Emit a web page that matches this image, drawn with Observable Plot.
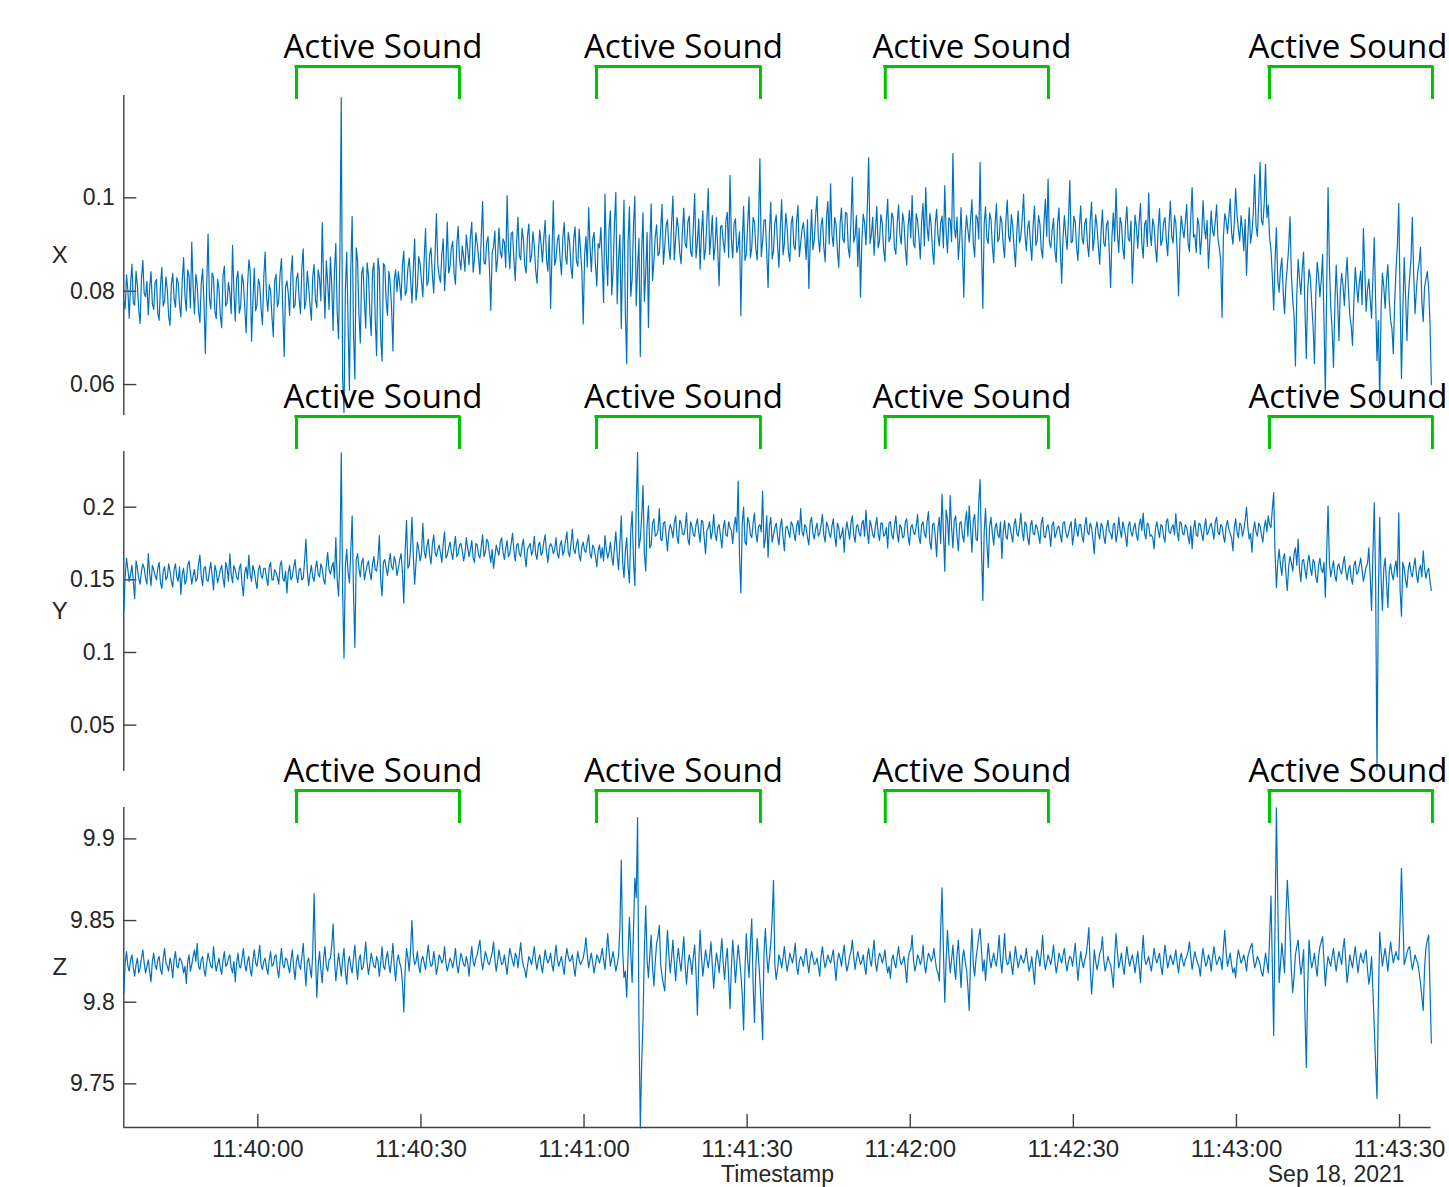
<!DOCTYPE html>
<html><head><meta charset="utf-8">
<script src="https://cdn.jsdelivr.net/npm/d3@7"></script>
<script src="https://cdn.jsdelivr.net/npm/@observablehq/plot@0.6"></script>
<style>
html,body{margin:0;padding:0;background:#fff;overflow:hidden}
#chart{position:relative;width:1449px;height:1187px;overflow:hidden;background:#fff}
#chart svg{position:absolute;left:0;top:0}
</style></head><body><div id="chart"></div>
<script>
// ---------- data ----------
// Samples every 250 ms, stored as two interleaved phases:
// *Values  = samples at sampleStart + i*500 ms
// *Between = samples at sampleStart + i*500 + 250 ms
const sampleStart = "2021-09-18T11:39:35.350Z";
const sampleStepMs = 500;
const xDomainIso = ["2021-09-18T11:39:35.350Z", "2021-09-18T11:43:35.820Z"];
const xTickLabels = ["11:40:00","11:40:30","11:41:00","11:41:30","11:42:00","11:42:30","11:43:00","11:43:30"];
const dateLabel = "Sep 18, 2021";
const xAxisTitle = "Timestamp";
const activeSoundLabel = "Active Sound";
const activeSoundStart = ["11:40:07.110","11:41:02.290","11:41:55.410","11:43:06.070"];
const activeSoundEnd   = ["11:40:37.090","11:41:32.450","11:42:25.420","11:43:36.050"];

const panelNames = ["X", "Y", "Z"];
const xTicksY = [0.06, 0.08, 0.1];
const yTicksY = [0.05, 0.1, 0.15, 0.2];
const zTicksY = [9.75, 9.8, 9.85, 9.9];
const xDomainY = [0.05337, 0.12193];
const yDomainY = [0.01810, 0.23834];
const zDomainY = [9.72327, 9.91923];

const xValues = [
0.0780,0.0835,0.0742,0.0858,0.0770,0.0812,0.0731,0.0866,0.0788,0.0749,
0.0842,0.0761,0.0825,0.0738,0.0851,0.0779,0.0803,0.0727,0.0838,0.0766,
0.0819,0.0745,0.0872,0.0758,0.0832,0.0905,0.0751,0.0814,0.0733,0.0848,
0.0667,0.0923,0.0762,0.0829,0.0741,0.0806,0.0722,0.0854,0.0775,0.0797,
0.0898,0.0736,0.0843,0.0769,0.0818,0.0711,0.0867,0.0693,0.0849,0.0772,
0.0815,0.0728,0.0884,0.0757,0.0801,0.0703,0.0836,0.0781,0.0870,0.0660,
0.0822,0.0748,0.0876,0.0770,0.0839,0.0752,0.0891,0.0779,0.0810,0.0738,
0.0857,0.0765,0.0828,0.0947,0.0742,0.0818,0.0873,0.0716,0.0902,0.0698,
0.1215,0.0540,0.0884,0.0588,0.0960,0.0612,0.0866,0.0689,0.0852,0.0721,
0.0834,0.0705,0.0861,0.0662,0.0845,0.0650,0.0855,0.0748,0.0818,0.0672,
0.0846,0.0842,0.0781,0.0886,0.0800,0.0871,0.0775,0.0912,0.0809,0.0858,
0.0788,0.0934,0.0821,0.0893,0.0796,0.0966,0.0833,0.0880,0.0801,0.0948,
0.0852,0.0907,0.0815,0.0939,0.0846,0.0874,0.0921,0.0857,0.0948,0.0869,
0.0903,0.0836,0.0992,0.0858,0.0917,0.0759,0.0895,0.0842,0.0936,0.0871,
0.0905,0.1005,0.0848,0.0927,0.0823,0.0959,0.0867,0.0911,0.0839,0.0944,
0.0876,0.0898,0.0817,0.0931,0.0862,0.0952,0.0843,0.0763,0.0994,0.0870,
0.0921,0.0835,0.0947,0.0858,0.0906,0.0828,0.0938,0.0853,0.0889,0.0730,
0.0917,0.0979,0.0842,0.0926,0.0811,0.0893,0.0858,0.1008,0.0812,0.0972,
0.0846,0.1012,0.0869,0.0720,0.0995,0.0645,0.0981,0.0827,0.1003,0.0851,
0.0660,0.0968,0.0839,0.0722,0.0987,0.0864,0.0942,0.0881,0.0986,0.0897,
0.0953,0.0868,0.1004,0.0912,0.0935,0.0859,0.0978,0.0893,0.0961,0.0874,
0.1009,0.0906,0.0847,0.0972,0.0889,0.1020,0.0916,0.0867,0.0958,0.0812,
0.0941,0.0883,0.0969,0.1048,0.0871,0.0955,0.0897,0.0748,0.0982,0.0879,
0.1002,0.0893,0.0948,0.0867,0.1084,0.0906,0.0953,0.0808,0.0991,0.0886,
0.0963,0.0851,0.0996,0.0902,0.0939,0.0864,0.0961,0.0889,0.0984,0.0902,
0.0947,0.0868,0.0806,0.0975,0.0911,0.1003,0.0884,0.0957,0.0863,0.0992,
0.1030,0.0896,0.0943,0.0851,0.0978,0.0904,0.0966,0.0872,0.1044,0.0918,
0.0853,0.0787,0.0965,0.0899,0.1086,0.0921,0.0877,0.0982,0.0908,0.0946,
0.0864,0.0997,0.0915,0.0958,0.0879,0.0985,0.0901,0.0947,0.0856,0.0973,
0.1005,0.0893,0.0951,0.0869,0.0988,0.1022,0.0908,0.0942,0.0858,0.0976,
0.0897,0.0961,0.1026,0.0882,0.0953,0.1095,0.0914,0.0868,0.0979,0.0787,
0.0962,0.0905,0.0996,0.0874,0.0957,0.1076,0.0763,0.0981,0.0902,0.0954,
0.0861,0.0987,0.0913,0.0948,0.0872,0.0995,0.0906,0.0939,0.0853,0.0972,
0.0918,0.1008,0.0887,0.0951,0.0866,0.0983,0.0909,0.0944,0.0871,0.0997,
0.1040,0.0893,0.0956,0.0862,0.0978,0.0817,0.0962,0.0889,0.1037,0.0907,
0.0948,0.0866,0.0983,0.0901,0.0956,0.0874,0.0991,0.0912,0.0939,0.0858,
0.0974,0.0896,0.0951,0.0808,0.0968,0.1020,0.0883,0.0945,0.0869,0.0981,
0.0907,0.0817,0.0963,0.0892,0.0988,0.0871,0.0952,0.1010,0.0898,0.0941,
0.0862,0.0977,0.0909,0.0958,0.0876,0.0993,0.0903,0.0946,0.0790,0.0961,
0.0914,0.0986,0.0885,0.1022,0.0921,0.0957,0.0879,0.0994,0.0912,0.0849,
0.0972,0.0918,0.0985,0.0893,0.0744,0.0966,0.0924,0.0998,0.0901,0.1020,
0.0933,0.0962,0.0887,0.0834,0.0979,0.0926,0.1050,0.0918,0.1076,0.0942,
0.1072,0.0985,0.0889,0.0760,0.0936,0.0798,0.0871,0.0752,0.0852,0.0960,
0.0781,0.0640,0.0868,0.0793,0.0884,0.0656,0.0847,0.0771,0.0645,0.0862,
0.0788,0.0879,0.0580,0.1022,0.0764,0.0637,0.0856,0.0694,0.0838,0.0769,
0.0872,0.0748,0.0684,0.0851,0.0776,0.0843,0.0934,0.0757,0.0826,0.0742,
0.0915,0.0651,0.0560,0.0839,0.0763,0.0857,0.0738,0.0666,0.0848,0.0988,
0.0613,0.0872,0.0694,0.0829,0.0958,0.0752,0.0841,0.0894,0.0735,0.0826,
0.0808,0.0600
];
const xBetween = [
0.0762,0.0801,0.0817,0.0774,0.0843,0.0759,0.0827,0.0795,0.0821,0.0806,
0.0773,0.0819,0.0752,0.0812,0.0768,0.0831,0.0746,0.0815,0.0784,0.0829,
0.0771,0.0823,0.0789,0.0846,0.0764,0.0808,0.0836,0.0757,0.0817,0.0773,
0.0812,0.0784,0.0839,0.0758,0.0826,0.0749,0.0834,0.0768,0.0819,0.0752,
0.0801,0.0827,0.0753,0.0836,0.0764,0.0809,0.0842,0.0781,0.0758,0.0826,
0.0762,0.0831,0.0787,0.0814,0.0745,0.0822,0.0766,0.0839,0.0757,0.0809,
0.0795,0.0838,0.0764,0.0825,0.0783,0.0851,0.0762,0.0843,0.0769,0.0832,
0.0781,0.0846,0.0779,0.0824,0.0865,0.0761,0.0812,0.0846,0.0755,0.0879,
0.0612,0.0803,0.0731,0.0849,0.0707,0.0893,0.0752,0.0838,0.0779,0.0861,
0.0756,0.0842,0.0738,0.0871,0.0702,0.0859,0.0781,0.0843,0.0765,0.0826,
0.0799,0.0814,0.0857,0.0792,0.0849,0.0826,0.0848,0.0781,0.0874,0.0823,
0.0869,0.0812,0.0878,0.0836,0.0877,0.0858,0.0819,0.0912,0.0857,0.0839,
0.0894,0.0838,0.0902,0.0868,0.0897,0.0843,0.0889,0.0916,0.0841,0.0925,
0.0872,0.0918,0.0861,0.0905,0.0849,0.0882,0.0929,0.0868,0.0884,0.0912,
0.0851,0.0893,0.0924,0.0869,0.0905,0.0877,0.0934,0.0854,0.0918,0.0862,
0.0927,0.0845,0.0882,0.0901,0.0913,0.0868,0.0921,0.0879,0.0856,0.0908,
0.0869,0.0915,0.0874,0.0926,0.0851,0.0912,0.0865,0.0933,0.0842,0.0876,
0.0852,0.0897,0.0911,0.0858,0.0902,0.0937,0.0776,0.0881,0.0934,0.0792,
0.0948,0.0773,0.0921,0.0876,0.0752,0.0903,0.0789,0.0942,0.0769,0.0913,
0.0887,0.0778,0.0926,0.0901,0.0823,0.0917,0.0876,0.0932,0.0858,0.0941,
0.0893,0.0946,0.0867,0.0958,0.0883,0.0929,0.0901,0.0948,0.0885,0.0937,
0.0871,0.0955,0.0924,0.0868,0.0951,0.0879,0.0962,0.0897,0.0886,0.0938,
0.0905,0.0951,0.0872,0.0913,0.0946,0.0883,0.0927,0.0904,0.0866,0.0944,
0.0872,0.0958,0.0891,0.0949,0.0874,0.0952,0.0883,0.0928,0.0869,0.0947,
0.0898,0.0936,0.0878,0.0967,0.0883,0.0945,0.0896,0.0951,0.0874,0.0933,
0.0915,0.0953,0.0904,0.0889,0.0962,0.0913,0.0941,0.0895,0.0958,0.0901,
0.0921,0.0958,0.0887,0.0946,0.0912,0.0969,0.0893,0.0951,0.0905,0.0962,
0.0935,0.0908,0.0947,0.0978,0.0902,0.0959,0.0931,0.0893,0.0964,0.0889,
0.0951,0.0906,0.0968,0.0893,0.0945,0.0921,0.0967,0.0891,0.0939,0.0914,
0.0902,0.0966,0.0914,0.0951,0.0897,0.0938,0.0967,0.0885,0.0943,0.0919,
0.0947,0.0893,0.0928,0.0957,0.0906,0.0937,0.0959,0.0912,0.0886,0.0918,
0.0931,0.0954,0.0901,0.0963,0.0912,0.0894,0.0944,0.0913,0.0968,0.0897,
0.0942,0.0906,0.0961,0.0899,0.0953,0.0917,0.0964,0.0893,0.0927,0.0904,
0.0957,0.0921,0.0936,0.0903,0.0941,0.0898,0.0962,0.0889,0.0949,0.0917,
0.0905,0.0931,0.0888,0.0944,0.0896,0.0915,0.0921,0.0953,0.0904,0.0961,
0.0892,0.0937,0.0915,0.0946,0.0899,0.0951,0.0887,0.0964,0.0896,0.0928,
0.0903,0.0942,0.0885,0.0916,0.0907,0.0924,0.0958,0.0893,0.0947,0.0912,
0.0951,0.0889,0.0937,0.0948,0.0902,0.0943,0.0896,0.0927,0.0955,0.0892,
0.0936,0.0898,0.0947,0.0911,0.0942,0.0917,0.0962,0.0884,0.0911,0.0934,
0.0948,0.0903,0.0959,0.0916,0.0883,0.0942,0.0915,0.0937,0.0952,0.0906,
0.0931,0.0949,0.0912,0.0867,0.0915,0.0951,0.0958,0.0926,0.0947,0.0965,
0.0908,0.0932,0.0954,0.0917,0.0903,0.0967,0.0939,0.0994,0.0951,0.0987,
0.0958,0.0914,0.0832,0.0863,0.0822,0.0847,0.0798,0.0817,0.0893,0.0836,
0.0747,0.0792,0.0826,0.0849,0.0761,0.0802,0.0828,0.0724,0.0796,0.0835,
0.0824,0.0738,0.0812,0.0857,0.0718,0.0772,0.0781,0.0799,0.0813,0.0828,
0.0803,0.0726,0.0779,0.0814,0.0819,0.0771,0.0847,0.0804,0.0783,0.0831,
0.0778,0.0737,0.0762,0.0809,0.0824,0.0782,0.0719,0.0775,0.0897,0.0784,
0.0754,0.0791,0.0785,0.0868,0.0836,0.0803,0.0861,0.0776,0.0809,0.0842,
0.0731
];

const yValues = [
0.128,0.165,0.149,0.160,0.137,0.158,0.147,0.161,0.151,0.168,
0.146,0.157,0.150,0.162,0.144,0.159,0.152,0.156,0.145,0.161,
0.149,0.140,0.158,0.150,0.163,0.147,0.157,0.151,0.167,0.146,
0.159,0.149,0.162,0.143,0.156,0.152,0.160,0.145,0.158,0.168,
0.148,0.157,0.150,0.161,0.139,0.159,0.167,0.149,0.156,0.144,
0.160,0.151,0.158,0.146,0.162,0.150,0.155,0.147,0.163,0.149,
0.141,0.160,0.152,0.164,0.148,0.158,0.151,0.178,0.146,0.160,
0.149,0.163,0.152,0.158,0.147,0.169,0.154,0.162,0.179,0.139,
0.2375,0.096,0.171,0.148,0.194,0.1035,0.168,0.152,0.165,0.155,
0.163,0.150,0.166,0.156,0.1805,0.139,0.164,0.153,0.168,0.157,
0.162,0.158,0.168,0.134,0.191,0.160,0.193,0.147,0.176,0.163,
0.189,0.165,0.178,0.161,0.181,0.166,0.174,0.162,0.183,0.167,
0.176,0.164,0.180,0.168,0.175,0.163,0.179,0.166,0.177,0.162,
0.174,0.165,0.181,0.169,0.176,0.162,0.158,0.174,0.167,0.179,
0.164,0.177,0.168,0.182,0.163,0.175,0.166,0.178,0.159,0.173,
0.167,0.180,0.164,0.176,0.169,0.181,0.162,0.175,0.168,0.179,
0.165,0.177,0.170,0.183,0.166,0.185,0.168,0.178,0.163,0.176,
0.169,0.181,0.165,0.172,0.159,0.174,0.172,0.1805,0.165,0.176,
0.160,0.183,0.157,0.194,0.1516,0.179,0.148,0.197,0.146,0.2377,
0.178,0.215,0.156,0.201,0.174,0.192,0.181,0.199,0.177,0.190,
0.170,0.188,0.179,0.194,0.175,0.189,0.181,0.196,0.174,0.187,
0.180,0.192,0.176,0.190,0.168,0.186,0.178,0.195,0.177,0.188,
0.172,0.191,0.180,0.186,0.175,0.193,0.218,0.141,0.200,0.174,
0.190,0.179,0.196,0.176,0.188,0.211,0.178,0.1655,0.193,0.181,
0.189,0.174,0.192,0.170,0.187,0.179,0.188,0.177,0.191,0.199,
0.180,0.186,0.174,0.193,0.178,0.189,0.182,0.195,0.176,0.187,
0.179,0.192,0.173,0.186,0.181,0.169,0.190,0.178,0.194,0.176,
0.188,0.180,0.191,0.198,0.175,0.187,0.179,0.193,0.177,0.189,
0.181,0.172,0.190,0.178,0.194,0.176,0.186,0.180,0.192,0.174,
0.188,0.181,0.195,0.175,0.190,0.179,0.197,0.171,0.189,0.166,
0.193,0.209,0.156,0.192,0.208,0.172,0.194,0.170,0.190,0.176,
0.197,0.201,0.169,0.195,0.177,0.219,0.1358,0.199,0.1585,0.193,
0.174,0.189,0.179,0.1647,0.191,0.178,0.187,0.176,0.192,0.180,
0.196,0.177,0.188,0.174,0.191,0.181,0.186,0.175,0.193,0.179,
0.188,0.173,0.190,0.182,0.187,0.176,0.190,0.179,0.187,0.174,
0.192,0.180,0.188,0.176,0.193,0.181,0.186,0.168,0.190,0.178,
0.187,0.175,0.191,0.182,0.188,0.176,0.193,0.179,0.186,0.173,
0.190,0.180,0.189,0.177,0.192,0.196,0.178,0.188,0.181,0.1715,
0.190,0.179,0.187,0.176,0.192,0.182,0.188,0.1957,0.177,0.189,
0.181,0.186,0.175,0.1715,0.191,0.180,0.188,0.177,0.192,0.183,
0.189,0.178,0.193,0.181,0.187,0.176,0.191,0.182,0.170,0.192,
0.179,0.188,0.184,0.200,0.178,0.169,0.190,0.180,0.187,0.176,
0.191,0.194,0.186,0.210,0.1447,0.171,0.153,0.168,0.1427,0.166,
0.156,0.172,0.178,0.1487,0.164,0.151,0.167,0.153,0.162,0.148,
0.165,0.155,0.138,0.201,0.152,0.163,0.149,0.161,0.154,0.166,
0.150,0.160,0.147,0.163,0.155,0.165,0.149,0.159,0.172,0.129,
0.2032,0.019,0.193,0.129,0.165,0.131,0.161,0.150,0.163,0.196,
0.125,0.158,0.1447,0.162,0.152,0.165,0.148,0.160,0.170,0.151,
0.158,0.1427
];
const yBetween = [
0.152,0.157,0.154,0.149,0.163,0.151,0.156,0.158,0.147,0.155,
0.160,0.153,0.158,0.148,0.156,0.150,0.161,0.149,0.157,0.152,
0.159,0.154,0.147,0.160,0.155,0.153,0.149,0.161,0.152,0.158,
0.150,0.156,0.153,0.160,0.148,0.157,0.151,0.162,0.149,0.154,
0.160,0.152,0.158,0.147,0.155,0.151,0.154,0.160,0.149,0.157,
0.153,0.158,0.151,0.159,0.150,0.157,0.152,0.160,0.151,0.156,
0.155,0.150,0.159,0.153,0.157,0.150,0.163,0.156,0.154,0.152,
0.158,0.154,0.161,0.150,0.160,0.157,0.159,0.151,0.150,0.164,
0.142,0.160,0.155,0.170,0.141,0.164,0.158,0.162,0.150,0.160,
0.155,0.161,0.157,0.164,0.150,0.162,0.158,0.161,0.159,0.166,
0.153,0.164,0.155,0.170,0.158,0.172,0.167,0.162,0.171,0.168,
0.170,0.173,0.167,0.174,0.169,0.171,0.168,0.175,0.165,0.172,
0.169,0.173,0.166,0.174,0.170,0.168,0.172,0.171,0.165,0.175,
0.167,0.173,0.166,0.178,0.168,0.171,0.166,0.170,0.176,0.169,
0.172,0.166,0.175,0.170,0.174,0.168,0.173,0.167,0.171,0.175,
0.170,0.168,0.174,0.167,0.176,0.169,0.172,0.173,0.171,0.168,
0.174,0.167,0.177,0.169,0.175,0.171,0.174,0.167,0.173,0.170,
0.176,0.168,0.174,0.166,0.170,0.165,0.163,0.171,0.169,0.166,
0.173,0.167,0.175,0.162,0.170,0.159,0.184,0.163,0.201,0.172,
0.193,0.168,0.187,0.172,0.189,0.180,0.184,0.178,0.189,0.180,
0.183,0.185,0.189,0.180,0.191,0.182,0.186,0.178,0.190,0.181,
0.188,0.183,0.191,0.179,0.184,0.190,0.183,0.182,0.186,0.180,
0.185,0.181,0.190,0.184,0.187,0.183,0.166,0.189,0.176,0.193,
0.181,0.189,0.182,0.187,0.183,0.172,0.194,0.187,0.176,0.186,
0.180,0.187,0.179,0.186,0.183,0.190,0.182,0.187,0.181,0.183,
0.188,0.179,0.190,0.182,0.185,0.180,0.188,0.181,0.190,0.182,
0.187,0.180,0.189,0.178,0.186,0.183,0.184,0.189,0.181,0.187,
0.182,0.189,0.180,0.183,0.191,0.181,0.187,0.182,0.189,0.180,
0.186,0.189,0.181,0.187,0.182,0.188,0.179,0.190,0.180,0.186,
0.183,0.187,0.180,0.188,0.182,0.190,0.176,0.188,0.180,0.186,
0.175,0.183,0.198,0.174,0.186,0.191,0.180,0.189,0.181,0.190,
0.180,0.185,0.191,0.178,0.203,0.172,0.183,0.175,0.187,0.182,
0.186,0.181,0.190,0.183,0.180,0.189,0.181,0.188,0.182,0.187,
0.183,0.190,0.179,0.187,0.182,0.188,0.181,0.189,0.180,0.186,
0.182,0.188,0.179,0.186,0.181,0.189,0.183,0.182,0.190,0.181,
0.184,0.188,0.180,0.187,0.183,0.189,0.178,0.185,0.182,0.189,
0.180,0.186,0.183,0.178,0.189,0.182,0.184,0.190,0.180,0.187,
0.183,0.186,0.181,0.188,0.184,0.182,0.189,0.180,0.179,0.185,
0.184,0.188,0.180,0.190,0.183,0.186,0.181,0.183,0.190,0.182,
0.188,0.180,0.187,0.185,0.181,0.189,0.182,0.186,0.181,0.187,
0.184,0.190,0.183,0.188,0.180,0.187,0.185,0.179,0.186,0.183,
0.189,0.180,0.191,0.186,0.182,0.184,0.183,0.189,0.181,0.186,
0.183,0.188,0.199,0.168,0.162,0.160,0.165,0.154,0.159,0.162,
0.168,0.160,0.157,0.163,0.157,0.162,0.158,0.164,0.152,0.160,
0.157,0.162,0.170,0.161,0.158,0.153,0.159,0.156,0.161,0.156,
0.157,0.151,0.160,0.154,0.160,0.157,0.154,0.161,0.152,0.168,
0.148,0.140,0.151,0.158,0.148,0.156,0.154,0.158,0.152,0.143,
0.162,0.150,0.157,0.155,0.159,0.154,0.157,0.152,0.158,0.156,
0.149
];

const zValues = [
9.805,9.831,9.819,9.829,9.816,9.827,9.821,9.832,9.818,9.826,
9.8125,9.830,9.820,9.828,9.817,9.833,9.822,9.827,9.815,9.831,
9.821,9.826,9.818,9.8115,9.829,9.823,9.832,9.836,9.820,9.828,
9.816,9.830,9.822,9.834,9.819,9.827,9.817,9.831,9.823,9.829,
9.818,9.8125,9.830,9.821,9.833,9.819,9.828,9.816,9.832,9.822,
9.835,9.820,9.827,9.817,9.831,9.823,9.829,9.815,9.833,9.821,
9.826,9.818,9.832,9.814,9.829,9.820,9.836,9.810,9.827,9.815,
9.8665,9.803,9.831,9.812,9.834,9.819,9.827,9.848,9.813,9.830,
9.816,9.833,9.811,9.828,9.818,9.835,9.814,9.829,9.821,9.837,
9.817,9.830,9.822,9.828,9.816,9.834,9.820,9.831,9.818,9.836,
9.813,9.829,9.821,9.794,9.833,9.819,9.850,9.823,9.831,9.818,
9.828,9.820,9.835,9.822,9.831,9.817,9.829,9.824,9.834,9.819,
9.827,9.821,9.833,9.818,9.830,9.823,9.828,9.816,9.834,9.822,
9.829,9.838,9.820,9.831,9.824,9.827,9.837,9.819,9.832,9.823,
9.829,9.817,9.833,9.825,9.830,9.821,9.8365,9.822,9.815,9.828,
9.823,9.834,9.820,9.829,9.818,9.832,9.824,9.830,9.819,9.835,
9.822,9.828,9.817,9.833,9.825,9.829,9.816,9.831,9.823,9.827,
9.8396,9.821,9.830,9.818,9.829,9.824,9.833,9.820,9.842,9.822,
9.831,9.819,9.828,9.887,9.815,9.803,9.852,9.812,9.876,9.913,
9.723,9.789,9.859,9.815,9.841,9.810,9.836,9.847,9.816,9.807,
9.844,9.818,9.838,9.813,9.833,9.819,9.840,9.811,9.829,9.817,
9.835,9.792,9.844,9.816,9.832,9.821,9.837,9.8085,9.830,9.818,
9.839,9.814,9.833,9.796,9.838,9.812,9.835,9.817,9.783,9.842,
9.815,9.851,9.7876,9.839,9.813,9.777,9.845,9.818,9.836,9.8746,
9.814,9.829,9.821,9.834,9.819,9.830,9.824,9.836,9.817,9.828,
9.822,9.833,9.818,9.831,9.823,9.827,9.816,9.834,9.821,9.829,
9.824,9.832,9.8133,9.830,9.822,9.835,9.819,9.828,9.838,9.820,
9.831,9.823,9.829,9.817,9.833,9.822,9.838,9.819,9.830,9.824,
9.832,9.818,9.8145,9.829,9.821,9.834,9.823,9.828,9.812,9.831,
9.841,9.819,9.829,9.823,9.835,9.818,9.830,9.825,9.833,9.820,
9.813,9.870,9.800,9.844,9.818,9.835,9.814,9.838,9.809,9.832,
9.820,9.795,9.845,9.816,9.833,9.845,9.819,9.8133,9.836,9.821,
9.830,9.822,9.841,9.818,9.842,9.823,9.831,9.817,9.834,9.821,
9.829,9.824,9.833,9.819,9.828,9.811,9.832,9.822,9.841,9.820,
9.829,9.823,9.835,9.818,9.830,9.824,9.833,9.819,9.828,9.822,
9.836,9.8133,9.831,9.821,9.829,9.8457,9.805,9.832,9.820,9.830,
9.840,9.819,9.828,9.823,9.809,9.842,9.821,9.830,9.817,9.834,
9.822,9.829,9.818,9.831,9.812,9.841,9.823,9.828,9.819,9.833,
9.824,9.830,9.817,9.835,9.821,9.829,9.823,9.832,9.818,9.830,
9.822,9.828,9.837,9.820,9.831,9.824,9.816,9.833,9.822,9.829,
9.819,9.834,9.823,9.828,9.820,9.844,9.822,9.830,9.818,9.815,
9.832,9.824,9.829,9.819,9.831,9.836,9.821,9.828,9.823,9.816,
9.830,9.818,9.865,9.7796,9.919,9.812,9.836,9.818,9.8746,9.842,
9.806,9.829,9.838,9.817,9.832,9.760,9.838,9.821,9.830,9.816,
9.834,9.840,9.810,9.828,9.822,9.833,9.819,9.831,9.823,9.839,
9.812,9.829,9.821,9.834,9.818,9.830,9.824,9.832,9.811,9.828,
9.7845,9.741,9.843,9.822,9.833,9.819,9.837,9.824,9.831,9.826,
9.882,9.823,9.830,9.834,9.820,9.829,9.824,9.812,9.795,9.833,
9.841,9.775
];
const zBetween = [
9.824,9.822,9.826,9.821,9.823,9.818,9.827,9.824,9.822,9.819,
9.825,9.823,9.826,9.820,9.827,9.824,9.819,9.823,9.826,9.822,
9.827,9.823,9.822,9.825,9.819,9.828,9.825,9.822,9.826,9.820,
9.824,9.826,9.821,9.825,9.823,9.821,9.826,9.822,9.827,9.821,
9.825,9.824,9.822,9.827,9.823,9.825,9.820,9.826,9.824,9.828,
9.823,9.825,9.821,9.826,9.822,9.828,9.820,9.825,9.823,9.827,
9.822,9.826,9.821,9.825,9.823,9.828,9.822,9.825,9.821,9.830,
9.829,9.822,9.820,9.827,9.822,9.826,9.835,9.826,9.822,9.823,
9.826,9.819,9.824,9.822,9.827,9.823,9.826,9.820,9.828,9.824,
9.823,9.826,9.821,9.825,9.824,9.822,9.827,9.823,9.826,9.822,
9.825,9.824,9.812,9.820,9.827,9.833,9.829,9.825,9.822,9.826,
9.824,9.828,9.826,9.823,9.825,9.822,9.827,9.826,9.824,9.823,
9.825,9.826,9.823,9.824,9.827,9.822,9.824,9.826,9.825,9.827,
9.834,9.826,9.825,9.828,9.823,9.830,9.826,9.825,9.827,9.824,
9.823,9.826,9.829,9.822,9.828,9.829,9.827,9.820,9.822,9.826,
9.828,9.825,9.826,9.823,9.825,9.827,9.826,9.823,9.827,9.826,
9.825,9.822,9.827,9.828,9.826,9.822,9.824,9.826,9.825,9.832,
9.829,9.826,9.824,9.823,9.827,9.828,9.826,9.830,9.831,9.827,
9.825,9.823,9.846,9.832,9.819,9.829,9.830,9.845,9.864,9.790,
9.762,9.832,9.826,9.829,9.821,9.825,9.840,9.823,9.811,9.828,
9.829,9.827,9.824,9.826,9.825,9.830,9.822,9.823,9.825,9.828,
9.818,9.823,9.828,9.824,9.826,9.828,9.822,9.821,9.825,9.829,
9.824,9.826,9.815,9.821,9.826,9.824,9.827,9.805,9.820,9.826,
9.836,9.811,9.822,9.827,9.798,9.830,9.829,9.827,9.851,9.823,
9.820,9.826,9.827,9.825,9.824,9.827,9.829,9.822,9.825,9.826,
9.828,9.824,9.826,9.827,9.824,9.822,9.828,9.826,9.825,9.826,
9.828,9.822,9.825,9.827,9.829,9.825,9.823,9.831,9.828,9.826,
9.827,9.825,9.822,9.828,9.826,9.830,9.824,9.826,9.828,9.827,
9.823,9.822,9.826,9.824,9.828,9.826,9.825,9.821,9.826,9.832,
9.826,9.823,9.827,9.826,9.823,9.825,9.828,9.827,9.826,9.818,
9.845,9.832,9.826,9.829,9.826,9.822,9.829,9.823,9.827,9.825,
9.809,9.828,9.823,9.827,9.840,9.832,9.826,9.825,9.827,9.826,
9.825,9.830,9.826,9.829,9.827,9.824,9.823,9.826,9.827,9.825,
9.826,9.827,9.825,9.822,9.820,9.826,9.828,9.830,9.826,9.824,
9.826,9.828,9.825,9.823,9.827,9.829,9.824,9.825,9.827,9.829,
9.824,9.823,9.825,9.826,9.836,9.822,9.817,9.825,9.824,9.832,
9.826,9.823,9.825,9.817,9.828,9.831,9.825,9.822,9.826,9.827,
9.826,9.824,9.825,9.822,9.828,9.827,9.825,9.823,9.826,9.827,
9.827,9.822,9.826,9.828,9.825,9.826,9.827,9.824,9.826,9.825,
9.826,9.831,9.828,9.826,9.827,9.822,9.826,9.827,9.824,9.826,
9.827,9.828,9.825,9.826,9.833,9.831,9.826,9.823,9.821,9.826,
9.828,9.826,9.825,9.828,9.834,9.827,9.824,9.826,9.818,9.823,
9.824,9.840,9.823,9.848,9.862,9.823,9.827,9.852,9.859,9.819,
9.816,9.834,9.826,9.823,9.793,9.809,9.827,9.825,9.822,9.828,
9.837,9.825,9.821,9.825,9.828,9.825,9.826,9.827,9.833,9.825,
9.820,9.825,9.828,9.826,9.825,9.826,9.829,9.820,9.817,9.807,
9.762,9.800,9.831,9.828,9.826,9.829,9.830,9.828,9.827,9.851,
9.853,9.826,9.833,9.826,9.824,9.826,9.818,9.803,9.821,9.838,
9.808
];

// ---------- layout / style ----------
const W = 1449, H = 1187;
const marginLeft = 123.3, marginRight = 18.3;
const panelHeight = 320;
const panelTops = [95, 451, 807];
const bracketTops = [66, 416, 790];
const bracketDrop = 33;
const lineColor = "#0072BD";
const axisColor = "#404040";
const textColor = "#262626";
const green = "#00C400";
const baseFont = "'Liberation Sans', Arial, Helvetica, sans-serif";

const day = sampleStart.slice(0, 11);
const t0 = new Date(sampleStart);
const xDomain = xDomainIso.map(s => new Date(s));
const xTicks = xTickLabels.map(s => new Date(day + s + "Z"));
const brackets = activeSoundStart.map((s, i) => ({start: new Date(day + s + "Z"), end: new Date(day + activeSoundEnd[i] + "Z"), last: i === activeSoundStart.length - 1}));
const bracketEdges = brackets.flatMap(b => [b.start, b.end]);

function series(main, between) {
  const out = [];
  main.forEach((v, i) => {
    out.push({t: new Date(+t0 + i * sampleStepMs), v});
    if (i < between.length && i < main.length - 1) out.push({t: new Date(+t0 + i * sampleStepMs + sampleStepMs / 2), v: between[i]});
  });
  return out;
}

const panels = [
  {name: panelNames[0], data: series(xValues, xBetween), domain: xDomainY, ticks: xTicksY},
  {name: panelNames[1], data: series(yValues, yBetween), domain: yDomainY, ticks: yTicksY},
  {name: panelNames[2], data: series(zValues, zBetween), domain: zDomainY, ticks: zTicksY}
];

const chart = document.getElementById("chart");
const fmtTime = d3.utcFormat("%H:%M:%S");

panels.forEach((p, k) => {
  const top = panelTops[k];
  const isBottom = k === panels.length - 1;
  const [lo, hi] = p.domain;
  const inv = px => hi - (px - top) / panelHeight * (hi - lo);
  const yTop = inv(bracketTops[k]);
  const yBot = inv(bracketTops[k] + bracketDrop);
  const labelOpts = {x: d => new Date((+d.start + +d.end) / 2), y: () => yTop, dy: -9, text: () => activeSoundLabel, lineAnchor: "bottom", textAnchor: "middle", fontSize: 33, fontFamily: "'Open Sans', sans-serif", fill: "#000"};

  const marks = [
    Plot.ruleX([xDomain[0]], {stroke: axisColor, strokeWidth: 1.4}),
    Plot.axisY(p.ticks, {label: null, tickSize: -13, tickPadding: 22, stroke: axisColor, strokeWidth: 1.4, fill: textColor, tickFormat: d => String(d), fontSize: 23}),
    Plot.text([p.name], {frameAnchor: "left", dx: -64, text: d => d, textAnchor: "middle", fontSize: 24, fill: textColor}),
    Plot.lineY(p.data, {x: "t", y: "v", stroke: lineColor, strokeWidth: 1.2}),
    Plot.ruleY(brackets, {x1: "start", x2: "end", y: () => yTop, stroke: green, strokeWidth: 3, strokeLinecap: "square"}),
    Plot.ruleX(bracketEdges, {x: d => d, y1: () => yTop, y2: () => yBot, stroke: green, strokeWidth: 3}),
    Plot.text(brackets.filter(b => !b.last), {...labelOpts, dx: 5}),
    Plot.text(brackets.filter(b => b.last), {...labelOpts, dx: -3})
  ];
  if (isBottom) {
    marks.push(
      Plot.ruleY([lo], {stroke: axisColor, strokeWidth: 1.4}),
      Plot.axisX(xTicks, {label: null, tickSize: -13, tickPadding: 25, stroke: axisColor, strokeWidth: 1.4, fill: textColor, tickFormat: fmtTime, fontSize: 24}),
      Plot.text([xAxisTitle], {frameAnchor: "bottom", dy: 54, lineAnchor: "bottom", textAnchor: "middle", fontSize: 23, fill: textColor}),
      Plot.text([dateLabel], {frameAnchor: "bottom-right", dx: -95, dy: 54, lineAnchor: "bottom", textAnchor: "middle", fontSize: 23, fill: textColor})
    );
  }

  const svg = Plot.plot({
    width: W, height: H,
    marginLeft, marginRight,
    marginTop: top, marginBottom: H - top - panelHeight,
    style: {background: "transparent", fontFamily: baseFont, fontSize: "22px", color: textColor, overflow: "visible"},
    x: {type: "utc", domain: xDomain, label: null, axis: isBottom ? undefined : null},
    y: {domain: p.domain, label: null},
    marks
  });
  chart.appendChild(svg);
});
</script>
</body></html>
